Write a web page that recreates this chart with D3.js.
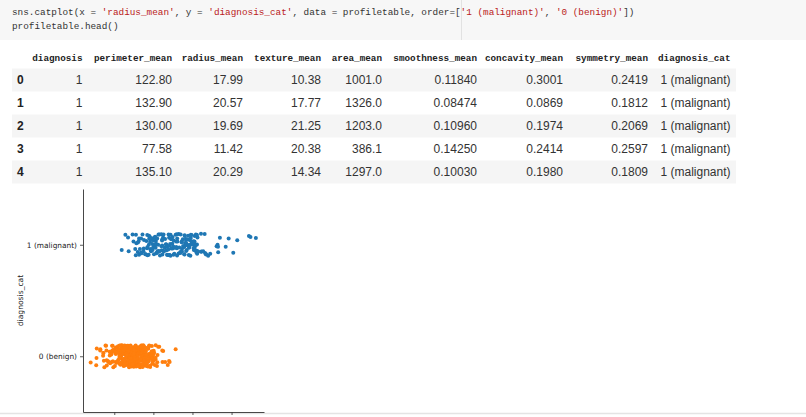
<!DOCTYPE html>
<html>
<head>
<meta charset="utf-8">
<script src="https://cdn.jsdelivr.net/npm/d3@7"></script>
<style>
  html, body { margin: 0; padding: 0; background: #fff; overflow: hidden; }
  svg { display: block; }
  text { white-space: pre; }
</style>
</head>
<body>
<svg id="nb" width="806" height="417"></svg>
<script>
// ---------------- DATA ----------------
const codeLine1 = [
  ["sns.catplot(x = ", "code"], ["'radius_mean'", "str"], [", y = ", "code"],
  ["'diagnosis_cat'", "str"], [", data = profiletable, order=[", "code"],
  ["'1 (malignant)'", "str"], [", ", "code"], ["'0 (benign)'", "str"], ["])", "code"]
];
const codeLine2 = [["profiletable.head()", "code"]];

const tableColumns = ["diagnosis", "perimeter_mean", "radius_mean", "texture_mean", "area_mean",
  "smoothness_mean", "concavity_mean", "symmetry_mean", "diagnosis_cat"];
const tableIndex = ["0", "1", "2", "3", "4"];
const colDiagnosis = ["1", "1", "1", "1", "1"];
const colPerimeter = ["122.80", "132.90", "130.00", "77.58", "135.10"];
const colRadius = ["17.99", "20.57", "19.69", "11.42", "20.29"];
const colTexture = ["10.38", "17.77", "21.25", "20.38", "14.34"];
const colArea = ["1001.0", "1326.0", "1203.0", "386.1", "1297.0"];
const colSmoothness = ["0.11840", "0.08474", "0.10960", "0.14250", "0.10030"];
const colConcavity = ["0.3001", "0.0869", "0.1974", "0.2414", "0.1980"];
const colSymmetry = ["0.2419", "0.1812", "0.2069", "0.2597", "0.1809"];
const colDiagCat = ["1 (malignant)", "1 (malignant)", "1 (malignant)", "1 (malignant)", "1 (malignant)"];

const categories = ["1 (malignant)", "0 (benign)"];
const xTicks = [10, 15, 20, 25];

const malignantRadius = [
  10.95, 11.42, 11.76, 11.84, 12.34, 12.46, 12.68, 12.75, 12.77, 12.83,
  13.00, 13.03, 13.11, 13.17, 13.17, 13.28, 13.43, 13.44, 13.48, 13.61, 13.73, 13.77, 13.80, 13.96,
  14.02, 14.11, 14.19, 14.22, 14.25, 14.25, 14.40, 14.42, 14.45, 14.48, 14.54, 14.58, 14.60, 14.61,
  14.68, 14.71, 14.78, 14.86, 14.90, 14.95,
  15.00, 15.06, 15.08, 15.10, 15.12, 15.13, 15.22, 15.27, 15.28, 15.30, 15.32, 15.34, 15.37, 15.46,
  15.49, 15.53, 15.61, 15.66, 15.70, 15.75, 15.78, 15.85,
  16.02, 16.03, 16.07, 16.11, 16.13, 16.13, 16.16, 16.24, 16.26, 16.30, 16.35, 16.46, 16.50, 16.60,
  16.65, 16.69, 16.74, 16.78, 16.84, 16.90, 16.95,
  17.01, 17.05, 17.06, 17.08, 17.14, 17.19, 17.20, 17.27, 17.29, 17.35, 17.42, 17.46, 17.47, 17.54,
  17.57, 17.60, 17.68, 17.75, 17.85, 17.91, 17.93, 17.99,
  18.01, 18.03, 18.05, 18.08, 18.22, 18.25, 18.31, 18.45, 18.46, 18.49, 18.61, 18.63, 18.65, 18.66,
  18.77, 18.81, 18.82, 18.94, 18.95, 18.99,
  19.00, 19.02, 19.07, 19.10, 19.16, 19.17, 19.18, 19.19, 19.21, 19.27, 19.40, 19.44, 19.45, 19.53,
  19.55, 19.59, 19.68, 19.69, 19.73, 19.79, 19.80, 19.81, 19.89, 19.94, 19.98,
  20.09, 20.13, 20.16, 20.18, 20.20, 20.26, 20.29, 20.31, 20.34, 20.44, 20.47, 20.48, 20.51, 20.55,
  20.57, 20.58, 20.59, 20.60, 20.64, 20.73,
  21.09, 21.10, 21.16, 21.37, 21.56, 21.61, 21.71, 21.75, 22.01,
  22.27, 23.09, 23.21, 23.27, 23.29, 23.51, 24.25, 24.63, 25.22, 25.73, 27.22, 27.42, 28.11
];

const benignRadius = [
  6.98, 7.69, 7.73, 7.76,
  8.20, 8.22, 8.57, 8.60, 8.62, 8.67, 8.73, 8.88, 8.95,
  9.00, 9.03, 9.04, 9.17, 9.27, 9.33, 9.40, 9.42, 9.46, 9.50, 9.56, 9.61, 9.67, 9.72, 9.74, 9.78,
  9.79, 9.85, 9.88, 9.90,
  10.03, 10.05, 10.08, 10.16, 10.17, 10.18, 10.20, 10.25, 10.26, 10.29, 10.32, 10.44, 10.48, 10.49,
  10.51, 10.57, 10.60, 10.65, 10.66, 10.71, 10.75, 10.80, 10.82, 10.86, 10.88, 10.90, 10.91, 10.94,
  10.96, 10.97, 10.98, 10.99, 10.12, 10.36, 10.39, 10.55, 10.62, 10.69, 10.78, 10.84,
  11.04, 11.06, 11.08, 11.13, 11.14, 11.15, 11.16, 11.20, 11.22, 11.25, 11.26, 11.27, 11.29, 11.30,
  11.32, 11.33, 11.34, 11.36, 11.37, 11.41, 11.43, 11.45, 11.46, 11.47, 11.49, 11.50, 11.51, 11.52,
  11.54, 11.57, 11.60, 11.61, 11.62, 11.63, 11.64, 11.66, 11.67, 11.68, 11.69, 11.70, 11.71, 11.74,
  11.75, 11.76, 11.80, 11.81, 11.82, 11.84, 11.85, 11.87, 11.89, 11.90, 11.93, 11.94, 11.95, 11.97,
  11.99, 11.06, 11.22, 11.34, 11.41, 11.52, 11.57, 11.62, 11.69, 11.71, 11.76, 11.80, 11.84, 11.89,
  11.93, 11.99, 11.29,
  12.00, 12.03, 12.04, 12.05, 12.06, 12.07, 12.10, 12.16, 12.18, 12.18, 12.19, 12.20, 12.21, 12.22,
  12.23, 12.25, 12.27, 12.30, 12.31, 12.32, 12.34, 12.36, 12.36, 12.39, 12.40, 12.42, 12.43, 12.45,
  12.46, 12.47, 12.49, 12.54, 12.56, 12.58, 12.62, 12.63, 12.65, 12.67, 12.70, 12.72, 12.75, 12.76,
  12.77, 12.78, 12.80, 12.83, 12.85, 12.86, 12.87, 12.88, 12.89, 12.90, 12.94, 12.95, 12.96, 12.98,
  12.99, 12.01, 12.08, 12.13, 12.21, 12.27, 12.34, 12.39, 12.45, 12.50, 12.57, 12.62, 12.68, 12.72,
  12.79, 12.84, 12.89, 12.93, 12.06, 12.14, 12.24, 12.33, 12.41, 12.52, 12.60, 12.66, 12.74, 12.81,
  12.91, 12.97,
  13.00, 13.01, 13.03, 13.05, 13.08, 13.11, 13.14, 13.15, 13.16, 13.17, 13.20, 13.21, 13.24, 13.27,
  13.28, 13.30, 13.34, 13.37, 13.38, 13.40, 13.43, 13.44, 13.45, 13.46, 13.47, 13.48, 13.49, 13.50,
  13.51, 13.53, 13.54, 13.56, 13.59, 13.62, 13.64, 13.65, 13.66, 13.68, 13.69, 13.70, 13.71, 13.74,
  13.75, 13.77, 13.78, 13.81, 13.82, 13.85, 13.86, 13.87, 13.88, 13.90, 13.94, 13.96, 13.98, 13.02,
  13.09, 13.19, 13.26, 13.33, 13.41, 13.52, 13.58, 13.63, 13.72, 13.80, 13.92,
  14.02, 14.04, 14.05, 14.06, 14.11, 14.20, 14.22, 14.26, 14.29, 14.34, 14.40, 14.41, 14.44, 14.47,
  14.50, 14.53, 14.58, 14.59, 14.62, 14.64, 14.69, 14.74, 14.76, 14.81, 14.86, 14.87, 14.92, 14.95,
  14.97, 14.99, 14.14, 14.27, 14.45, 14.61, 14.79,
  15.04, 15.10, 15.12, 15.19, 15.27, 15.28, 15.30, 15.46, 15.50, 15.53, 15.61, 15.75,
  16.14, 16.17, 16.26, 16.50, 16.84,
  17.01, 17.08, 17.85
];

// ---------------- DRAW ----------------
const svg = d3.select("#nb");
const W = 806, H = 417;
const codeFont = "'Liberation Mono', 'DejaVu Sans Mono', monospace";

// code cell
svg.append("rect").attr("x", 0).attr("y", 0).attr("width", W).attr("height", 40).attr("fill", "#f7f7f7");
svg.append("line").attr("x1", 461.5).attr("x2", 461.5).attr("y1", 0).attr("y2", 40)
  .attr("stroke", "#e2e2e2").attr("stroke-width", 1);

const codeColors = { code: "#333333", str: "#ba2121" };
[codeLine1, codeLine2].forEach((line, i) => {
  const t = svg.append("text").attr("x", 12).attr("y", 15 + i * 14)
    .attr("font-family", codeFont).attr("font-size", 9.35).attr("xml:space", "preserve");
  line.forEach(([s, k]) => t.append("tspan").attr("fill", codeColors[k]).text(s));
});

// table
const rowTop = 68.5, rowH = 23;
const colRight = [82.5, 172, 243, 321, 382, 477, 563, 648, 730.5];
const colData = [colDiagnosis, colPerimeter, colRadius, colTexture, colArea,
  colSmoothness, colConcavity, colSymmetry, colDiagCat];

const rowY = d3.scaleBand().domain(tableIndex).range([rowTop, rowTop + rowH * tableIndex.length]);

svg.append("g").selectAll("rect").data(tableIndex.filter((d, i) => i % 2 === 0)).join("rect")
  .attr("x", 12).attr("width", 724).attr("y", d => rowY(d)).attr("height", rowY.bandwidth())
  .attr("fill", "#f5f5f5");

svg.append("g").selectAll("text").data(tableColumns).join("text")
  .attr("x", (d, i) => colRight[i]).attr("y", 61).attr("text-anchor", "end")
  .attr("font-family", codeFont).attr("font-weight", "bold").attr("font-size", 9.3)
  .attr("fill", "#222").text(d => d);

svg.append("g").selectAll("text").data(tableIndex).join("text")
  .attr("x", 17).attr("y", d => rowY(d) + rowY.bandwidth() / 2 + 4.3)
  .attr("font-family", "'Liberation Sans', Arial, sans-serif").attr("font-weight", "bold")
  .attr("font-size", 12).attr("fill", "#222").text(d => d);

colData.forEach((col, ci) => {
  svg.append("g").selectAll("text").data(col).join("text")
    .attr("x", colRight[ci]).attr("y", (d, ri) => rowY(tableIndex[ri]) + rowY.bandwidth() / 2 + 4.3)
    .attr("text-anchor", "end")
    .attr("font-family", "'Liberation Sans', Arial, sans-serif").attr("font-size", 12)
    .attr("fill", "#333").text(d => d);
});

// bottom cell border line
svg.append("line").attr("x1", 0).attr("x2", W).attr("y1", 413.5).attr("y2", 413.5)
  .attr("stroke", "#e4e4e4").attr("stroke-width", 1.5);

// strip plot
const axL = 83, axR = 264, axT = 189, axB = 412;
const x = d3.scaleLinear().domain([6.0, 29.15]).range([axL, axR]);
const y = d3.scalePoint().domain(categories).range([axT, axB]).padding(0.5);
const colors = d3.scaleOrdinal().domain(categories).range(["#1f77b4", "#ff7f0e"]);

const rng = d3.randomLcg(0.4242);
const jit = d3.randomUniform.source(rng)(-0.1, 0.1);
const step = y.step();

const points = [];
malignantRadius.forEach(v => points.push({ cat: categories[0], v, j: jit() }));
benignRadius.forEach(v => points.push({ cat: categories[1], v, j: jit() }));

const plot = svg.append("g");
plot.selectAll("circle").data(points).join("circle")
  .attr("cx", d => x(d.v)).attr("cy", d => y(d.cat) + d.j * step)
  .attr("r", 2.0).attr("fill", d => colors(d.cat));

const tickFont = "'DejaVu Sans', sans-serif";
// x tick labels fall below the visible area in the reference, so only tick marks are drawn
const xAxis = svg.append("g").attr("transform", `translate(0,${axB})`)
  .call(d3.axisBottom(x).tickValues(xTicks).tickSize(3).tickSizeOuter(0).tickFormat(""));
const yAxis = svg.append("g").attr("transform", `translate(${axL},0)`)
  .call(d3.axisLeft(y).tickSize(3).tickSizeOuter(0).tickPadding(3));
[xAxis, yAxis].forEach(g => {
  g.select(".domain").attr("stroke", "#333").attr("stroke-width", 0.9);
  g.selectAll(".tick line").attr("stroke", "#333").attr("stroke-width", 0.8);
  g.selectAll(".tick text").attr("font-family", tickFont).attr("font-size", 7.4).attr("fill", "#222");
});

svg.append("text")
  .attr("transform", `translate(23,${(axT + axB) / 2}) rotate(-90)`)
  .attr("text-anchor", "middle").attr("font-family", tickFont).attr("font-size", 7.6)
  .attr("fill", "#222").text("diagnosis_cat");
</script>
</body>
</html>
